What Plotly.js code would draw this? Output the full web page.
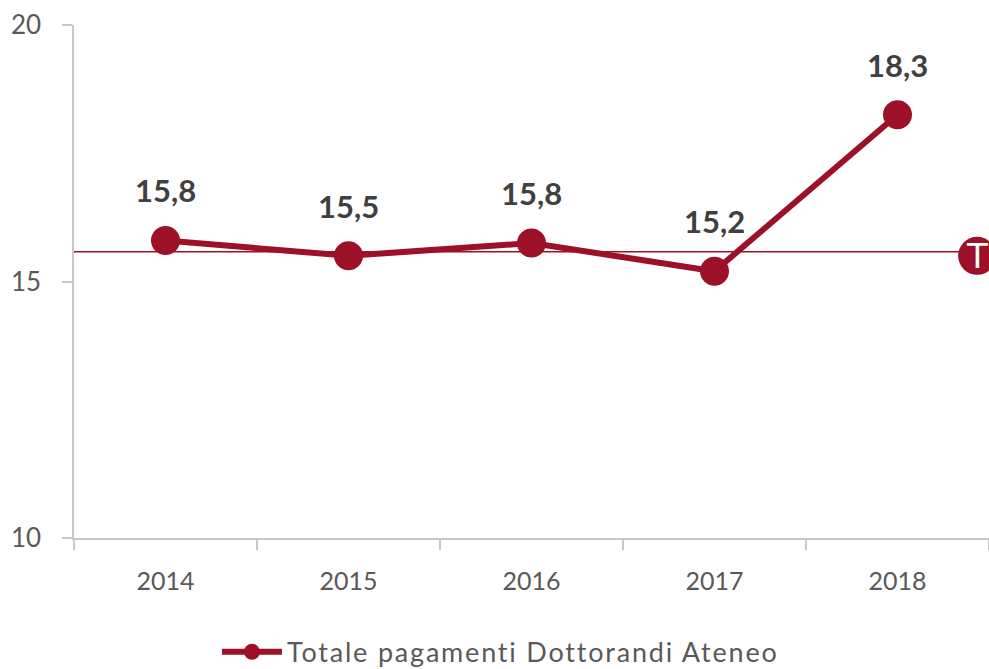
<!DOCTYPE html>
<html>
<head>
<meta charset="utf-8">
<script src="https://cdn.plot.ly/plotly-3.0.1.min.js"></script>
<style>html,body{margin:0;padding:0;background:#fff;}#chart{width:989px;height:669px;}
.legendtext{letter-spacing:1.8px;}</style>
</head>
<body>
<div id="chart"></div>
<script>
var years = ["2014", "2015", "2016", "2017", "2018"];
var values = [15.8, 15.5, 15.75, 15.2, 18.25];
var labels = ["15,8", "15,5", "15,8", "15,2", "18,3"];
var seriesName = "Totale pagamenti Dottorandi Ateneo";
var targetValue = 15.58;
var targetLabel = "T";

var red = "#9c1028";
var fontFam = "'Source Sans Pro', Lato, 'Open Sans', sans-serif";

var trace = {
  x: years, y: values, type: "scatter", mode: "lines+markers",
  name: seriesName,
  line: {color: red, width: 6},
  marker: {color: red, size: 29},
  cliponaxis: false
};

var annots = years.map(function (yr, i) {
  return {xref: "x", yref: "y", x: i, y: values[i], text: "<b>" + labels[i] + "</b>", showarrow: false, yshift: 50,
    font: {family: fontFam, size: 31, color: "#404040"}};
});
annots.push({xref: "paper", x: 0.987, y: targetValue - 0.08, text: targetLabel, showarrow: false,
  font: {family: "'DejaVu Sans', sans-serif", size: 34, color: "#ffffff"}, xanchor: "center", yanchor: "middle"});

var layout = {
  width: 989, height: 669,
  margin: {l: 74, r: 0, t: 25, b: 131},
  paper_bgcolor: "#fff", plot_bgcolor: "#fff",
  font: {family: fontFam, color: "#595959"},
  showlegend: true,
  legend: {orientation: "h", xref: "container", yref: "container", x: 0.506, xanchor: "center",
    y: 0.025, yanchor: "middle",
    font: {size: 27, color: "#595959", family: fontFam}, itemwidth: 60},
  xaxis: {type: "category", tickson: "boundaries", ticks: "outside", ticklen: 10, tickwidth: 1.5,
    tickcolor: "#c8c8c8", showline: true, linecolor: "#c8c8c8", linewidth: 1.5,
    showgrid: false, zeroline: false, range: [-0.5, 4.5],
    tickfont: {size: 25, color: "#595959"}, ticklabelstandoff: 20},
  yaxis: {range: [10, 20], tickvals: [10, 15, 20], ticks: "outside", ticklen: 10, tickwidth: 1.5,
    tickcolor: "#c8c8c8", showline: true, linecolor: "#c8c8c8", linewidth: 1.5,
    showgrid: false, zeroline: false, tickfont: {size: 26, color: "#595959"}, ticklabelstandoff: 16},
  shapes: [
    {type: "line", xref: "paper", x0: 0, x1: 0.98, yref: "y", y0: targetValue, y1: targetValue,
      line: {color: red, width: 1.5}},
    {type: "circle", xref: "paper", yref: "y", xsizemode: "pixel", ysizemode: "pixel",
      xanchor: 0.987, yanchor: targetValue - 0.08, x0: -19, x1: 19, y0: -19, y1: 19,
      fillcolor: red, line: {color: red, width: 0}}
  ],
  annotations: annots
};

Plotly.newPlot("chart", [trace], layout, {displayModeBar: false, responsive: false});
</script>
</body>
</html>
